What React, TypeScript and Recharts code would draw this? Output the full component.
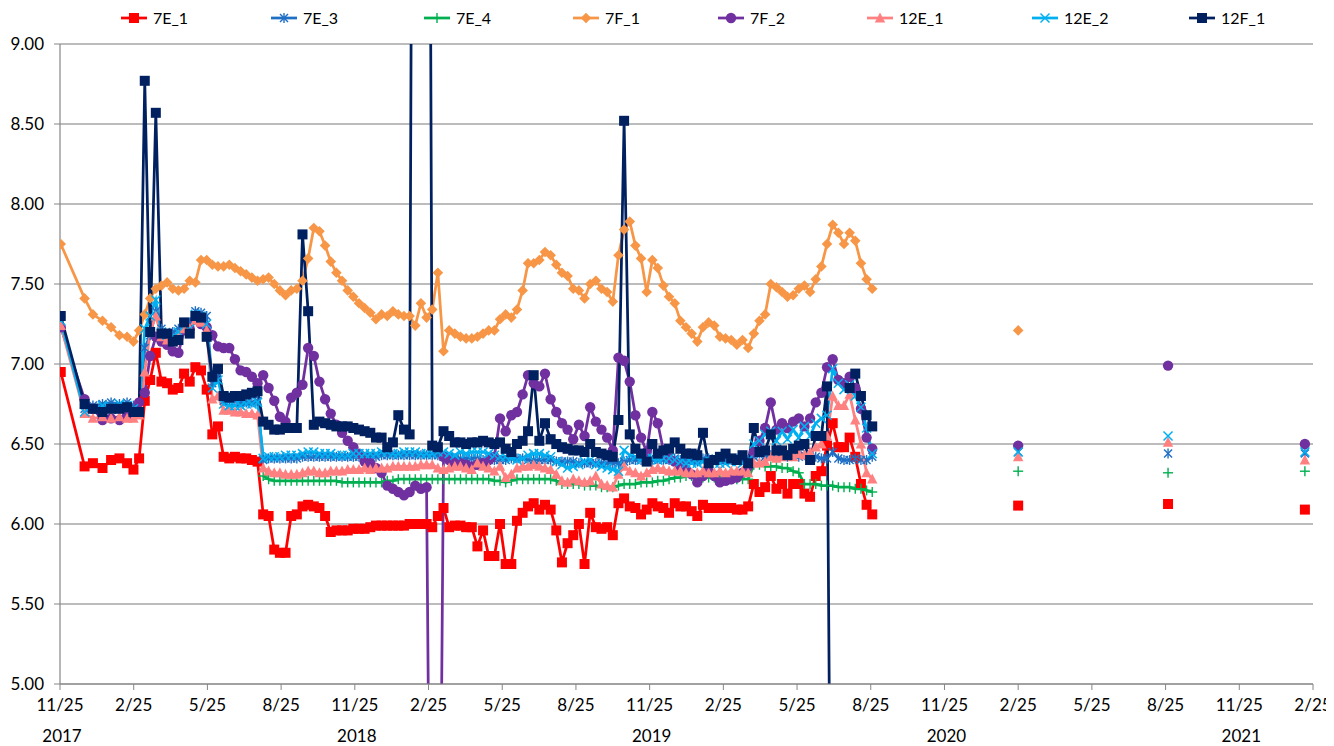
import React from 'react';
import { LineChart, Line, XAxis, YAxis, CartesianGrid } from 'recharts';

// ---------- data ----------
const tickLabels = ['11/25', '2/25', '5/25', '8/25'];
const yearLabels = ['2017', '2018', '2019', '2020', '2021'];
const xTicks = [0, 3, 6, 9, 12, 15, 18, 21, 24, 27, 30, 33, 36, 39, 42, 45, 48, 51];
const yTicks = [5, 5.5, 6, 6.5, 7, 7.5, 8, 8.5, 9];

// sample dates, in months after the first 11/25 tick
const sampleMonths = [
  0.03, 1.0, 1.34, 1.73, 2.08, 2.42, 2.73, 2.99,
  3.22, 3.45, 3.67, 3.90, 4.13, 4.36, 4.59, 4.82, 5.05, 5.28,
  5.51, 5.74, 5.97, 6.20, 6.43, 6.66, 6.89, 7.12, 7.35, 7.58,
  7.81, 8.04, 8.27, 8.49, 8.72, 8.95, 9.18, 9.41, 9.64, 9.87,
  10.10, 10.33, 10.56, 10.79, 11.02, 11.25, 11.48, 11.71, 11.94, 12.17,
  12.40, 12.63, 12.86, 13.09, 13.32, 13.55, 13.77, 14.00, 14.23, 14.46,
  14.69, 14.92, 15.15, 15.38, 15.61, 15.84, 16.07, 16.30, 16.53, 16.76,
  16.99, 17.22, 17.45, 17.68, 17.91, 18.14, 18.37, 18.60, 18.83, 19.05,
  19.28, 19.51, 19.74, 19.97, 20.20, 20.43, 20.66, 20.89, 21.12, 21.35,
  21.58, 21.81, 22.04, 22.27, 22.50, 22.73, 22.96, 23.19, 23.42, 23.65,
  23.88, 24.11, 24.33, 24.56, 24.79, 25.02, 25.25, 25.48, 25.71, 25.94,
  26.17, 26.40, 26.63, 26.86, 27.09, 27.32, 27.55, 27.78, 28.01, 28.24,
  28.47, 28.70, 28.93, 29.16, 29.39, 29.61, 29.84, 30.07, 30.30, 30.53,
  30.76, 30.99, 31.22, 31.45, 31.68, 31.91, 32.14, 32.37, 32.60, 32.83,
  33.06,
];
const lateMonths = [39.0, 45.1, 50.67];
const gapMonths = [36, 42, 48];

const v7E_1 = [
  6.95, 6.36, 6.38, 6.35, 6.40, 6.41, 6.38, 6.34,
  6.41, 6.77, 6.90, 7.07, 6.89, 6.88, 6.84, 6.85, 6.94, 6.89,
  6.98, 6.96, 6.84, 6.56, 6.61, 6.42, 6.41, 6.42, 6.41, 6.41,
  6.40, 6.39, 6.06, 6.05, 5.84, 5.82, 5.82, 6.05, 6.06, 6.11,
  6.12, 6.11, 6.10, 6.05, 5.95, 5.96, 5.96, 5.96, 5.97, 5.97,
  5.97, 5.98, 5.99, 5.99, 5.99, 5.99, 5.99, 5.99, 6.00, 6.00,
  6.00, 6.00, 5.98, 6.05, 6.10, 5.98, 5.99, 5.99, 5.98, 5.98,
  5.86, 5.96, 5.80, 5.80, 6.00, 5.75, 5.75, 6.02, 6.07, 6.11,
  6.13, 6.09, 6.12, 6.09, 5.96, 5.76, 5.88, 5.93, 6.00, 5.75,
  6.07, 5.98, 5.97, 5.98, 5.93, 6.13, 6.16, 6.11, 6.10, 6.06,
  6.09, 6.13, 6.11, 6.10, 6.07, 6.13, 6.11, 6.11, 6.08, 6.05,
  6.12, 6.10, 6.10, 6.10, 6.10, 6.10, 6.09, 6.09, 6.11, 6.25,
  6.20, 6.23, 6.30, 6.22, 6.25, 6.19, 6.25, 6.25, 6.19, 6.17,
  6.30, 6.33, 6.49, 6.63, 6.48, 6.48, 6.54, 6.42, 6.25, 6.12,
  6.06,
];
const v7E_3 = [
  7.26, 6.72, 6.74, 6.75, 6.76, 6.75, 6.76, 6.74,
  6.73, 7.10, 7.18, 7.33, 7.22, 7.18, 7.20, 7.22, 7.24, 7.26,
  7.33, 7.32, 7.30, 6.88, 6.92, 6.77, 6.77, 6.77, 6.76, 6.76,
  6.76, 6.77, 6.40, 6.41, 6.41, 6.41, 6.41, 6.41, 6.41, 6.42,
  6.42, 6.42, 6.42, 6.42, 6.42, 6.42, 6.42, 6.42, 6.42, 6.42,
  6.42, 6.42, 6.42, 6.43, 6.43, 6.43, 6.43, 6.43, 6.43, 6.43,
  6.43, 6.43, 6.43, 6.43, 6.42, 6.42, 6.41, 6.41, 6.41, 6.41,
  6.41, 6.40, 6.40, 6.40, 6.40, 6.40, 6.41, 6.41, 6.41, 6.40,
  6.40, 6.40, 6.40, 6.40, 6.39, 6.39, 6.39, 6.39, 6.38, 6.38,
  6.38, 6.38, 6.38, 6.38, 6.38, 6.38, 6.39, 6.40, 6.40, 6.40,
  6.40, 6.40, 6.40, 6.40, 6.40, 6.41, 6.40, 6.40, 6.40, 6.39,
  6.41, 6.41, 6.40, 6.40, 6.40, 6.40, 6.41, 6.40, 6.40, 6.42,
  6.43, 6.42, 6.43, 6.42, 6.43, 6.42, 6.43, 6.42, 6.43, 6.42,
  6.42, 6.41, 6.41, 6.45, 6.41, 6.40, 6.40, 6.41, 6.40, 6.40,
  6.42,
];
const v7E_4 = [
  null, null, null, null, null, null, null, null,
  null, null, null, null, null, null, null, null, null, null,
  null, null, null, null, null, null, null, null, null, null,
  null, null, 6.30, 6.28, 6.27, 6.27, 6.27, 6.27, 6.27, 6.27,
  6.27, 6.27, 6.27, 6.27, 6.27, 6.27, 6.26, 6.26, 6.26, 6.26,
  6.26, 6.26, 6.26, 6.26, 6.27, 6.27, 6.28, 6.28, 6.28, 6.28,
  6.28, 6.28, 6.28, 6.28, 6.28, 6.28, 6.28, 6.28, 6.28, 6.28,
  6.28, 6.28, 6.28, 6.27, 6.27, 6.26, 6.27, 6.28, 6.28, 6.28,
  6.28, 6.28, 6.28, 6.28, 6.27, 6.25, 6.25, 6.25, 6.25, 6.24,
  6.24, 6.24, 6.23, 6.23, 6.23, 6.24, 6.25, 6.25, 6.25, 6.26,
  6.26, 6.26, 6.27, 6.27, 6.28, 6.29, 6.29, 6.30, 6.30, 6.30,
  6.29, 6.29, 6.29, 6.29, 6.28, 6.28, 6.28, 6.28, 6.28, 6.37,
  6.37, 6.36, 6.36, 6.36, 6.35, 6.35, 6.33, 6.32, 6.25, 6.25,
  6.25, 6.24, 6.24, 6.24, 6.23, 6.23, 6.23, 6.22, 6.22, 6.21,
  6.20,
];
const v7F_1 = [
  7.75, 7.41, 7.31, 7.27, 7.23, 7.18, 7.17, 7.14,
  7.21, 7.31, 7.41, 7.47, 7.49, 7.51, 7.47, 7.46, 7.47, 7.52,
  7.51, 7.65, 7.65, 7.62, 7.61, 7.61, 7.62, 7.60, 7.58, 7.56,
  7.54, 7.52, 7.53, 7.54, 7.50, 7.46, 7.43, 7.46, 7.47, 7.52,
  7.66, 7.85, 7.83, 7.74, 7.64, 7.57, 7.52, 7.46, 7.42, 7.38,
  7.35, 7.32, 7.28, 7.31, 7.30, 7.33, 7.31, 7.30, 7.30, 7.24,
  7.38, 7.29, 7.34, 7.57, 7.08, 7.21, 7.19, 7.17, 7.16, 7.16,
  7.17, 7.19, 7.21, 7.21, 7.28, 7.31, 7.29, 7.34, 7.46, 7.63,
  7.63, 7.65, 7.70, 7.68, 7.62, 7.57, 7.55, 7.47, 7.46, 7.41,
  7.50, 7.52, 7.47, 7.45, 7.39, 7.68, 7.84, 7.89, 7.74, 7.66,
  7.45, 7.65, 7.60, 7.49, 7.42, 7.38, 7.27, 7.23, 7.19, 7.14,
  7.23, 7.26, 7.24, 7.17, 7.16, 7.15, 7.12, 7.15, 7.10, 7.19,
  7.27, 7.31, 7.50, 7.48, 7.45, 7.42, 7.43, 7.47, 7.49, 7.45,
  7.53, 7.61, 7.75, 7.87, 7.82, 7.75, 7.82, 7.77, 7.63, 7.53,
  7.47,
];
const v7F_2 = [
  7.23, 6.78, 6.72, 6.65, 6.66, 6.65, 6.68, 6.70,
  6.76, 6.82, 7.05, 7.17, 7.14, 7.12, 7.08, 7.07, 7.21, 7.22,
  7.28, 7.25, 7.23, 7.18, 7.11, 7.10, 7.10, 7.03, 6.96, 6.95,
  6.92, 6.88, 6.93, 6.85, 6.77, 6.67, 6.64, 6.79, 6.82, 6.87,
  7.10, 7.05, 6.89, 6.78, 6.69, 6.62, 6.57, 6.52, 6.48, 6.44,
  6.39, 6.38, 6.35, 6.32, 6.24, 6.22, 6.20, 6.18, 6.20, 6.24,
  6.22, 6.23, 2.0, 2.0, 6.42, 6.40, 6.38, 6.38, 6.37, 6.36,
  6.37, 6.38, 6.40, 6.42, 6.66, 6.58, 6.68, 6.70, 6.81, 6.93,
  6.88, 6.86, 6.94, 6.78, 6.70, 6.63, 6.59, 6.53, 6.62, 6.55,
  6.73, 6.64, 6.59, 6.54, 6.46, 7.04, 7.02, 6.89, 6.68, 6.54,
  6.45, 6.70, 6.63, 6.46, 6.41, 6.39, 6.36, 6.34, 6.31, 6.26,
  6.30, 6.33, 6.30, 6.26, 6.27, 6.28, 6.29, 6.32, 6.36, 6.45,
  6.52, 6.60, 6.76, 6.59, 6.63, 6.60, 6.64, 6.66, 6.61, 6.66,
  6.76, 6.82, 6.98, 7.03, 6.90, 6.88, 6.92, 6.85, 6.72, 6.54,
  6.47,
];
const v12E_1 = [
  7.24, 6.69, 6.66, 6.67, 6.66, 6.67, 6.66, 6.66,
  6.68, 6.95, 7.20, 7.30, 7.17, 7.15, 7.14, 7.18, 7.22, 7.22,
  7.27, 7.26, 7.21, 6.78, 6.80, 6.71, 6.71, 6.70, 6.70, 6.69,
  6.69, 6.68, 6.35, 6.33, 6.32, 6.32, 6.31, 6.31, 6.31, 6.32,
  6.33, 6.33, 6.32, 6.32, 6.33, 6.33, 6.33, 6.34, 6.34, 6.34,
  6.35, 6.34, 6.35, 6.35, 6.35, 6.36, 6.36, 6.36, 6.36, 6.36,
  6.37, 6.37, 6.37, 6.35, 6.34, 6.35, 6.36, 6.36, 6.35, 6.34,
  6.38, 6.36, 6.35, 6.33, 6.36, 6.29, 6.31, 6.35, 6.36, 6.36,
  6.37, 6.36, 6.35, 6.34, 6.31, 6.27, 6.26, 6.28, 6.27, 6.26,
  6.27, 6.30, 6.25, 6.24, 6.23, 6.31, 6.36, 6.33, 6.32, 6.30,
  6.32, 6.34, 6.35, 6.34, 6.33, 6.33, 6.33, 6.32, 6.32, 6.32,
  6.33, 6.32, 6.32, 6.33, 6.32, 6.33, 6.33, 6.33, 6.32, 6.38,
  6.38, 6.39, 6.42, 6.41, 6.42, 6.43, 6.42, 6.44, 6.43, 6.45,
  6.48, 6.50, 6.55, 6.80, 6.74, 6.74, 6.81, 6.65, 6.50, 6.32,
  6.28,
];
const v12E_2 = [
  7.27, 6.70, 6.72, 6.74, 6.73, 6.75, 6.74, 6.72,
  6.70, 7.22, 7.30, 7.40, 7.20, 7.18, 7.17, 7.20, 7.25, 7.22,
  7.31, 7.30, 7.25, 6.85, 6.90, 6.75, 6.74, 6.74, 6.74, 6.75,
  6.75, 6.76, 6.41, 6.42, 6.42, 6.42, 6.43, 6.43, 6.43, 6.44,
  6.45, 6.45, 6.44, 6.44, 6.44, 6.43, 6.43, 6.43, 6.44, 6.44,
  6.44, 6.44, 6.44, 6.45, 6.45, 6.44, 6.44, 6.45, 6.45, 6.45,
  6.44, 6.44, 6.44, 6.45, 6.45, 6.44, 6.43, 6.45, 6.44, 6.45,
  6.45, 6.45, 6.44, 6.43, 6.42, 6.42, 6.41, 6.40, 6.41, 6.43,
  6.44, 6.44, 6.43, 6.42, 6.39, 6.37, 6.35, 6.36, 6.37, 6.39,
  6.40, 6.37, 6.36, 6.35, 6.34, 6.33, 6.46, 6.43, 6.42, 6.40,
  6.41, 6.41, 6.40, 6.41, 6.41, 6.40, 6.39, 6.38, 6.38, 6.38,
  6.39, 6.38, 6.38, 6.38, 6.38, 6.39, 6.39, 6.38, 6.40, 6.50,
  6.52, 6.56, 6.58, 6.52, 6.58, 6.53, 6.59, 6.54, 6.61, 6.55,
  6.63, 6.66, 6.68, 6.97, 6.88, 6.84, 6.87, 6.80, 6.73, 6.60,
  6.44,
];
const v12F_1 = [
  7.30, 6.75, 6.72, 6.70, 6.72, 6.72, 6.73, 6.70,
  6.70, 8.77, 7.20, 8.57, 7.19, 7.19, 7.14, 7.15, 7.26, 7.19,
  7.30, 7.29, 7.17, 6.92, 6.97, 6.80, 6.79, 6.80, 6.80, 6.81,
  6.82, 6.83, 6.64, 6.62, 6.59, 6.59, 6.60, 6.60, 6.60, 7.81,
  7.33, 6.62, 6.64, 6.63, 6.62, 6.61, 6.61, 6.61, 6.60, 6.59,
  6.58, 6.57, 6.54, 6.54, 6.48, 6.51, 6.68, 6.59, 6.56, 16.0,
  16.0, 16.0, 6.49, 6.48, 6.58, 6.55, 6.51, 6.51, 6.50, 6.51,
  6.51, 6.52, 6.51, 6.50, 6.51, 6.47, 6.45, 6.50, 6.52, 6.58,
  6.93, 6.52, 6.63, 6.53, 6.50, 6.48, 6.47, 6.46, 6.46, 6.45,
  6.50, 6.45, 6.44, 6.43, 6.42, 6.65, 8.52, 6.56, 6.47, 6.44,
  6.39, 6.50, 6.44, 6.46, 6.47, 6.51, 6.47, 6.44, 6.44, 6.43,
  6.57, 6.38, 6.40, 6.42, 6.44, 6.41, 6.40, 6.43, 6.38, 6.60,
  6.45, 6.46, 6.56, 6.46, 6.46, 6.43, 6.47, 6.49, 6.50, 6.40,
  6.55, 6.55, 6.86, 2.0, null, null, 6.85, 6.94, 6.80, 6.68,
  6.61,
];

const late7E_1 = [6.115, 6.125, 6.09];
const late7E_3 = [6.45, 6.44, 6.44];
const late7E_4 = [6.33, 6.32, 6.33];
const late7F_1 = [7.21, null, null];
const late7F_2 = [6.49, 6.99, 6.50];
const late12E_1 = [6.42, 6.51, 6.40];
const late12E_2 = [6.45, 6.55, 6.45];
const late12F_1 = [null, null, null];

// ---------- series config (styles) ----------
type Shape = 'square' | 'asterisk' | 'plus' | 'diamond' | 'circle' | 'triangle' | 'x';
const SERIES: { key: string; name: string; color: string; shape: Shape; dense: (number | null)[]; late: (number | null)[]; legendX: number }[] = [
  { key: 's1', name: '7E_1', color: '#FF0000', shape: 'square', dense: v7E_1, late: late7E_1, legendX: 126 },
  { key: 's2', name: '7E_3', color: '#1F6FC5', shape: 'asterisk', dense: v7E_3, late: late7E_3, legendX: 276 },
  { key: 's3', name: '7E_4', color: '#00B050', shape: 'plus', dense: v7E_4, late: late7E_4, legendX: 429 },
  { key: 's4', name: '7F_1', color: '#F79646', shape: 'diamond', dense: v7F_1, late: late7F_1, legendX: 578 },
  { key: 's5', name: '7F_2', color: '#7030A0', shape: 'circle', dense: v7F_2, late: late7F_2, legendX: 723 },
  { key: 's6', name: '12E_1', color: '#FF8080', shape: 'triangle', dense: v12E_1, late: late12E_1, legendX: 872 },
  { key: 's7', name: '12E_2', color: '#00B0F0', shape: 'x', dense: v12E_2, late: late12E_2, legendX: 1037 },
  { key: 's8', name: '12F_1', color: '#002060', shape: 'square', dense: v12F_1, late: late12F_1, legendX: 1194 },
];

// build the table
const rows: any[] = sampleMonths.map((m, i) => {
  const r: any = { m };
  SERIES.forEach((s) => { r[s.key] = s.dense[i]; });
  return r;
});
lateMonths.forEach((m, j) => {
  rows.push({ m: gapMonths[j] });
  const r: any = { m };
  SERIES.forEach((s) => { r[s.key] = s.late[j]; });
  rows.push(r);
});

const FONT = "Lato, 'Open Sans', 'DejaVu Sans', sans-serif";

function Marker({ shape, cx, cy, color }: { shape: Shape; cx: number; cy: number; color: string }) {
  switch (shape) {
    case 'square':
      return <rect x={cx - 5} y={cy - 5} width={10} height={10} fill={color} />;
    case 'diamond':
      return <polygon points={`${cx},${cy - 5.3} ${cx + 5.3},${cy} ${cx},${cy + 5.3} ${cx - 5.3},${cy}`} fill={color} />;
    case 'circle':
      return <circle cx={cx} cy={cy} r={5.2} fill={color} />;
    case 'triangle':
      return <polygon points={`${cx},${cy - 5.6} ${cx + 5.2},${cy + 4.4} ${cx - 5.2},${cy + 4.4}`} fill={color} />;
    case 'x':
      return (
        <g stroke={color} strokeWidth={1.5}>
          <line x1={cx - 4.5} y1={cy - 4.5} x2={cx + 4.5} y2={cy + 4.5} />
          <line x1={cx - 4.5} y1={cy + 4.5} x2={cx + 4.5} y2={cy - 4.5} />
        </g>
      );
    case 'asterisk':
      return (
        <g stroke={color} strokeWidth={1.4}>
          <line x1={cx - 4} y1={cy - 4} x2={cx + 4} y2={cy + 4} />
          <line x1={cx - 4} y1={cy + 4} x2={cx + 4} y2={cy - 4} />
          <line x1={cx} y1={cy - 5} x2={cx} y2={cy + 5} />
        </g>
      );
    case 'plus':
    default:
      return (
        <g stroke={color} strokeWidth={1.4}>
          <line x1={cx - 5} y1={cy} x2={cx + 5} y2={cy} />
          <line x1={cx} y1={cy - 5} x2={cx} y2={cy + 5} />
        </g>
      );
  }
}

const makeDot = (shape: Shape, color: string) => (props: any) => {
  const { cx, cy, index, value } = props;
  if (cx == null || cy == null || value == null || !isFinite(cx) || !isFinite(cy)) {
    return <g key={`d-${index}`} />;
  }
  return (
    <g key={`d-${index}`}>
      <Marker shape={shape} cx={cx} cy={cy} color={color} />
    </g>
  );
};

const XTick = (props: any) => {
  const { x, y, payload } = props;
  const v = payload.value as number;
  const label = tickLabels[Math.round(v / 3) % 4];
  const year = v % 12 === 0 ? yearLabels[v / 12] : null;
  return (
    <g>
      <text x={x} y={y + 19} textAnchor="middle" fontSize={17} fill="#000" fontFamily={FONT}>{label}</text>
      {year && (
        <text x={x + 2} y={y + 50} textAnchor="middle" fontSize={17} fill="#000" fontFamily={FONT}>{year}</text>
      )}
    </g>
  );
};

const YTick = (props: any) => {
  const { x, y, payload } = props;
  return (
    <text x={x} y={y + 6} textAnchor="end" fontSize={17} fill="#000" fontFamily={FONT}>
      {(payload.value as number).toFixed(2)}
    </text>
  );
};

function LegendBar() {
  return (
    <svg width={1326} height={30} style={{ position: 'absolute', left: 0, top: 0, pointerEvents: 'none' }}>
      {SERIES.map((s) => (
        <g key={s.key}>
          <line x1={s.legendX - 13} y1={10} x2={s.legendX + 13} y2={10} stroke={s.color} strokeWidth={2.75} />
          <Marker shape={s.shape} cx={s.legendX} cy={10} color={s.color} />
          <text x={s.legendX + 19} y={16} fontSize={16} fill="#000" fontFamily={FONT}>{s.name}</text>
        </g>
      ))}
    </svg>
  );
}

export default function App() {
  return (
    <div style={{ position: 'relative', width: 1326, height: 738, fontFamily: FONT, background: '#fff' }}>
      <LineChart width={1326} height={738} data={rows} margin={{ top: 36, right: 21, bottom: 12, left: 0 }}>
        <CartesianGrid vertical={false} stroke="#A6A6A6" strokeWidth={1.5} />
        <XAxis
          type="number"
          dataKey="m"
          domain={[0, 51]}
          ticks={xTicks}
          interval={0}
          height={50}
          tickSize={6}
          axisLine={{ stroke: '#868686', strokeWidth: 1.2 }}
          tickLine={{ stroke: '#868686' }}
          tick={<XTick />}
          allowDataOverflow
        />
        <YAxis
          type="number"
          domain={[5, 9]}
          ticks={yTicks}
          interval={0}
          width={52}
          tickSize={6}
          tickMargin={10}
          axisLine={{ stroke: '#868686', strokeWidth: 1.2 }}
          tickLine={{ stroke: '#868686' }}
          tick={<YTick />}
          allowDataOverflow
        />
        {SERIES.map((s) => (
          <Line
            key={s.key}
            type="linear"
            dataKey={s.key}
            name={s.name}
            stroke={s.color}
            strokeWidth={2.75}
            dot={makeDot(s.shape, s.color)}
            activeDot={false}
            isAnimationActive={false}
            connectNulls={false}
          />
        ))}
      </LineChart>
      <LegendBar />
    </div>
  );
}
